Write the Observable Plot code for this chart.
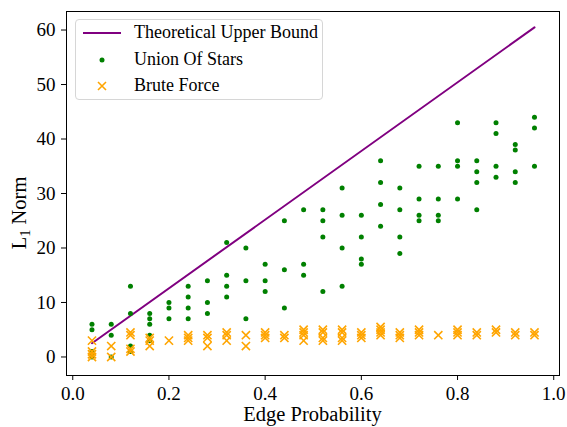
<!DOCTYPE html>
<html>
<head>
<meta charset="utf-8">
<script src="https://cdn.jsdelivr.net/npm/d3@7"></script>
<script src="https://cdn.jsdelivr.net/npm/@observablehq/plot@0.6"></script>
<style>
  body { margin: 0; background: #fff; }
  #wrap { position: relative; width: 567px; height: 427px; font-family: "Liberation Serif", "Times New Roman", serif; }
  #wrap svg text { font-family: "Liberation Serif", "Times New Roman", serif !important; }
  #legend { position: absolute; left: 75px; top: 19px; width: 248px; height: 81px; box-sizing: border-box;
    border: 1px solid #d6d6d6; border-radius: 4px; background: rgba(255,255,255,0.8);
    font-family: "Liberation Serif", "Times New Roman", serif; font-size: 18px; color: #000; }
  .row { position: absolute; left: 0; height: 20px; width: 240px; }
  .row svg { position: absolute; left: 5px; top: 0; }
  .row span { position: absolute; left: 58px; top: -1px; line-height: 20px; white-space: nowrap; }
</style>
</head>
<body>
<div id="wrap"></div>
<script>
// Data
const edgeProbability = [0.04,0.08,0.12,0.16,0.20,0.24,0.28,0.32,0.36,0.40,0.44,0.48,0.52,0.56,0.60,0.64,0.68,0.72,0.76,0.80,0.84,0.88,0.92,0.96];
const unionOfStars = [
  [6,5,1,0.5,0],[6,4,0],[13,8,2,1],[8,7,6,4,3],[10,9,7],[13,11,9,7],[14,10,8],[21,15,13,11],
  [20,14,7],[17,14,12],[25,16,9],[27,17,15],[27,25,22,12],[31,26,20,13],[26,22,18,17],[36,32,28,24],
  [31,27,22,19],[35,29,26,25],[35,29,26,25],[43,36,35,29],[36,34,32,27],[43,41,35,33],[39,38,34,32],[44,42,35]
];
const bruteForce = [
  [3,1,0.5,0],[2,0],[4.5,4,1.5,1],[3.5,3,2],[3],[4,3.5,3],[4,3.5,2],[4.5,4,3],
  [4,2],[4.5,4,3.5],[4,3.5],[5,4.5,4,3],[5,4.5,3.5,3],[5,4.5,3.5,3],[4.5,4,3.5],[5.5,5,4.5,4],
  [4.5,4,3.5],[5,4.5,4],[4],[5,4.5,4],[4.5,4],[5,4.5],[4.5,4],[4.5,4]
];
const upperBoundX = [0.04, 0.96];
const upperBoundY = [2.52, 60.48];
const xTicks = [0.0, 0.2, 0.4, 0.6, 0.8, 1.0];
const yTicks = [0, 10, 20, 30, 40, 50, 60];

const starsRows = edgeProbability.flatMap((p, i) => unionOfStars[i].map(v => ({p, v})));
const bruteRows = edgeProbability.flatMap((p, i) => bruteForce[i].map(v => ({p, v})));
const boundRows = upperBoundX.map((p, i) => ({p, v: upperBoundY[i]}));

const serif = "Liberation Serif, Times New Roman, serif";
const chart = Plot.plot({
  width: 567,
  height: 427,
  marginLeft: 66,
  marginRight: 8,
  marginTop: 11,
  marginBottom: 52,
  style: { fontFamily: serif, fontSize: "19px", background: "#fff", color: "#000" },
  x: { domain: [-0.013, 1.012] },
  y: { domain: [-3.4, 63.4] },
  marks: [
    Plot.axisX({ ticks: xTicks, tickFormat: d3.format(".1f"), tickSize: 5, tickPadding: 6, fontSize: 19, fontFamily: serif, label: null, stroke: "#000" }),
    Plot.axisY({ ticks: yTicks, tickSize: 5, tickPadding: 6, fontSize: 19, fontFamily: serif, label: null, stroke: "#000" }),
    Plot.line(boundRows, { x: "p", y: "v", stroke: "purple", strokeWidth: 2 }),
    Plot.dot(starsRows, { x: "p", y: "v", r: 2.5, fill: "green", stroke: "none" }),
    Plot.dot(bruteRows, { x: "p", y: "v", r: 3.8, symbol: "times", stroke: "orange", strokeWidth: 1.6 }),
    Plot.frame({ stroke: "#000", strokeWidth: 1 })
  ]
});

const svg = d3.select(chart);
svg.append("text")
  .attr("x", 312.5).attr("y", 421)
  .attr("text-anchor", "middle")
  .attr("font-size", 20.5)
  .attr("fill", "#000")
  .text("Edge Probability");
const yl = svg.append("text")
  .attr("transform", "translate(26,213) rotate(-90)")
  .attr("text-anchor", "middle")
  .attr("font-size", 20.5)
  .attr("fill", "#000");
yl.append("tspan").text("L");
yl.append("tspan").attr("font-size", 14.5).attr("dy", 4).text("1");
yl.append("tspan").attr("dy", -4).text(" Norm");

const wrap = document.getElementById("wrap");
wrap.appendChild(chart);

const legend = document.createElement("div");
legend.id = "legend";
legend.innerHTML = `
  <div class="row" style="top:3px"><svg width="40" height="20"><line x1="2" x2="40" y1="10" y2="10" stroke="purple" stroke-width="2"/></svg><span>Theoretical Upper Bound</span></div>
  <div class="row" style="top:30px"><svg width="40" height="20"><circle cx="21" cy="10" r="2.5" fill="green"/></svg><span>Union Of Stars</span></div>
  <div class="row" style="top:56px"><svg width="40" height="20"><path d="M17,6L25,14M17,14L25,6" stroke="orange" stroke-width="1.6"/></svg><span>Brute Force</span></div>
`;
wrap.appendChild(legend);
</script>
</body>
</html>
